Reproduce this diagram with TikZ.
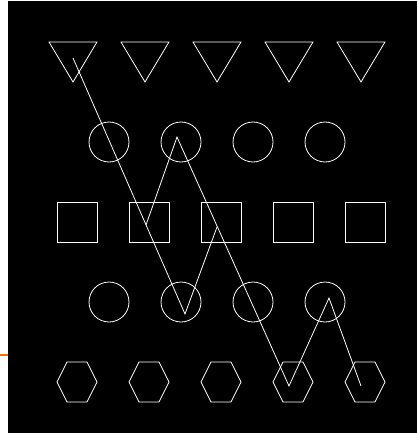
\documentclass[tikz,border=0pt]{standalone}
\begin{document}
\begin{tikzpicture}[x=1pt, y=-1pt,
    outline/.style={white, line width=0.8pt, line join=miter}]
  \useasboundingbox (0,0) rectangle (417,433);
  % Dark panel and the small mark at its left edge
  \fill[black] (8,1) rectangle (417,433);
  \draw[orange!85!red, line width=2pt] (0,355) -- (8,355);

  % Top row: downward triangles
  \foreach \x in {73,145,217,289,361}
    \draw[outline] (\x-24,42) -- (\x+24,42) -- (\x,82) -- cycle;

  % Two rows of circles
  \foreach \x in {109,181,253,325} {
    \draw[outline] (\x,142) circle (20pt);
    \draw[outline] (\x,302) circle (20pt);
  }

  % Middle row: squares
  \foreach \x in {77,149,221,293,365}
    \draw[outline] (\x-20,202) rectangle (\x+20,242);

  % Bottom row: hexagons
  \foreach \x in {77,149,221,293,365}
    \draw[outline] (\x-20,382) -- (\x-10,362) -- (\x+10,362) -- (\x+20,382)
                   -- (\x+10,402) -- (\x-10,402) -- cycle;

  % Zigzag through the rows
  \coordinate (zStart) at (73,58);
  \coordinate (zLowA)  at (185,314);
  \coordinate (zMidR)  at (217,227);
  \coordinate (zMidL)  at (146,225);
  \coordinate (zHighA) at (177,137);
  \coordinate (zLowB)  at (289,386);
  \coordinate (zHighB) at (329,298);
  \coordinate (zEnd)   at (361,386);
  \draw[outline] (zStart) -- (zLowA) -- (zMidR);
  \draw[outline] (zMidL) -- (zHighA) -- (zLowB) -- (zHighB) -- (zEnd);
\end{tikzpicture}
\end{document}
